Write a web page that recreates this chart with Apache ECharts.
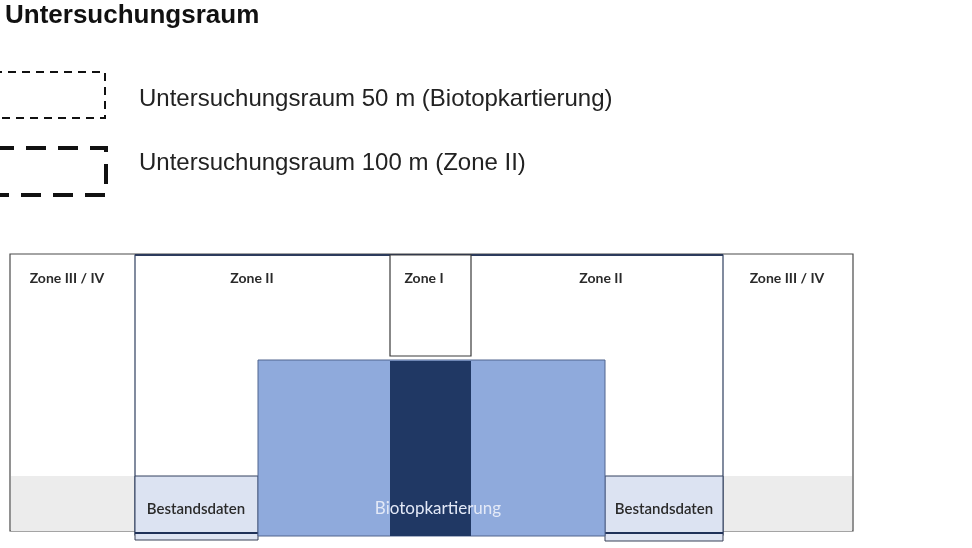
<!DOCTYPE html>
<html><head><meta charset="utf-8">
<script src="https://cdn.jsdelivr.net/npm/echarts@6/dist/echarts.min.js"></script>
<style>html,body{margin:0;padding:0;background:#fff}#c{width:972px;height:548px}</style>
</head><body><div id="c"></div>
<script>
// Diagram units (x: horizontal extent, y: vertical extent, top = 0)
const titleText = 'Untersuchungsraum';
const legendLabels = ['Untersuchungsraum 50 m (Biotopkartierung)', 'Untersuchungsraum 100 m (Zone II)'];
const legendBoxes = [[-6, 105, 72, 118], [-6, 106, 148, 195]];

const zoneNames = ['Zone III / IV', 'Zone II', 'Zone I', 'Zone II', 'Zone III / IV'];
const zoneLabelX = [67, 252, 424, 601, 787];
const zoneLabelY = 278;

const outerBox = [[10, 853, 254, 531]];
const grayBands = [[11, 135, 476, 531], [723, 852, 476, 531]];
const zone2Box = [[135, 723, 255, 535]];
const zone1Box = [[390, 471, 255, 356]];
const bestandBoxes = [[135, 258, 476, 533], [605, 723, 476, 533]];
const bestandStrips = [[135, 258, 533, 540], [605, 723, 533, 541]];
const bestandLabelX = [196, 664];
const bestandLabelY = 509;
const biotopOuter = [[258, 605, 360, 536]];
const biotopCore = [[390, 471, 361, 536]];
const biotopLabel = 'Biotopkartierung';
const biotopLabelX = 438;

function rectSeries(data, style, z) {
  return {
    type: 'custom', coordinateSystem: 'cartesian2d', z: z || 2, silent: true, clip: false,
    data: data,
    renderItem: function (params, api) {
      const p0 = api.coord([api.value(0), api.value(2)]);
      const p1 = api.coord([api.value(1), api.value(3)]);
      return { type: 'rect', shape: { x: p0[0], y: p0[1], width: p1[0] - p0[0], height: p1[1] - p0[1] }, style: style };
    }
  };
}
function textSeries(data, style, z) {
  return {
    type: 'custom', coordinateSystem: 'cartesian2d', z: z || 10, silent: true, clip: false,
    data: data,
    renderItem: function (params, api) {
      const p = api.coord([api.value(0), api.value(1)]);
      return { type: 'text', x: p[0], y: p[1], style: Object.assign({ text: data[params.dataIndex][2] }, style) };
    }
  };
}

const chart = echarts.init(document.getElementById('c'));
chart.setOption({
  animation: false,
  backgroundColor: '#ffffff',
  grid: { left: 0, right: 0, top: 0, bottom: 0 },
  xAxis: { type: 'value', min: 0, max: 972, show: false },
  yAxis: { type: 'value', min: 0, max: 548, inverse: true, show: false },
  series: [
    textSeries([[5, 16, titleText]], { font: 'bold 26px "Liberation Sans", Arial, sans-serif', fill: '#111', textAlign: 'left', textVerticalAlign: 'middle' }),
    rectSeries([legendBoxes[0]], { fill: 'none', stroke: '#111', lineWidth: 2, lineDash: [8, 6] }),
    rectSeries([legendBoxes[1]], { fill: 'none', stroke: '#111', lineWidth: 4, lineDash: [20, 12] }),
    textSeries([[139, 99, legendLabels[0]], [139, 163, legendLabels[1]]], { font: '24px "Liberation Sans", Arial, sans-serif', fill: '#222', textAlign: 'left', textVerticalAlign: 'middle' }),

    rectSeries(outerBox, { fill: '#ffffff', stroke: '#4a4a4a', lineWidth: 1.2 }, 1),
    rectSeries(grayBands, { fill: '#ececec', stroke: 'none' }, 2),
    rectSeries(zone2Box, { fill: 'none', stroke: '#2f3f5f', lineWidth: 1.2 }, 3),
    rectSeries([[135, 723, 254, 256]], { fill: '#2c3b5c', stroke: 'none' }, 3),
    rectSeries(zone1Box, { fill: '#ffffff', stroke: '#3a3a3a', lineWidth: 1.2 }, 3),
    rectSeries(bestandStrips, { fill: '#dfe5f3', stroke: '#3a4258', lineWidth: 1 }, 4),
    rectSeries(bestandBoxes, { fill: '#dce3f2', stroke: '#33405e', lineWidth: 1 }, 4),
    rectSeries([[135, 258, 532, 534], [605, 723, 532, 534]], { fill: '#1f3158', stroke: 'none' }, 5),
    rectSeries(biotopOuter, { fill: '#8faadc', stroke: '#50648e', lineWidth: 1 }, 6),
    rectSeries(biotopCore, { fill: '#203864', stroke: 'none' }, 7),

    textSeries(zoneNames.map((n, i) => [zoneLabelX[i], zoneLabelY, n]), { font: 'bold 14px Lato, "Open Sans", sans-serif', fill: '#2a2a2a', textAlign: 'center', textVerticalAlign: 'middle' }),
    textSeries(bestandLabelX.map(x => [x, bestandLabelY, 'Bestandsdaten']), { font: '600 15px Lato, "Open Sans", sans-serif', fill: '#2a2a2a', textAlign: 'center', textVerticalAlign: 'middle' }),
    textSeries([[biotopLabelX, bestandLabelY, biotopLabel]], { font: '17px Lato, "Open Sans", sans-serif', fill: '#e3e9f7', textAlign: 'center', textVerticalAlign: 'middle' })
  ]
});
</script></body></html>
